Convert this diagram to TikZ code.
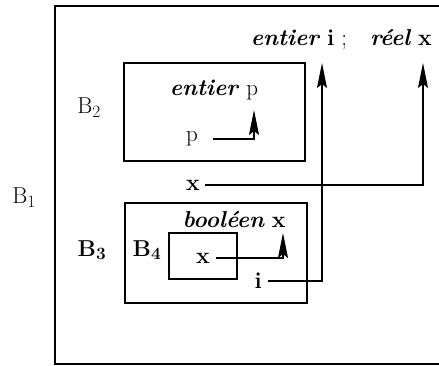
\documentclass[tikz,border=0pt]{standalone}
\usetikzlibrary{arrows.meta}
\tikzset{
  lbl/.style={inner sep=0pt, font=\fontsize{23}{27}\selectfont},
  box/.style={draw, line width=1.6pt},
  conn/.style={line width=1.3pt, -{Stealth[length=25pt,width=10pt,inset=4pt]}},
}
\begin{document}
\begin{tikzpicture}[x=1pt,y=-1pt]
\useasboundingbox (0,0) rectangle (439,366);
% outer block B1 (right side beyond the frame)
\draw[line width=1.7pt] (439,6) -- (55,6) -- (55,364) -- (439,364);
\node[lbl] (B1) at (24,198) {B$_1$};
\node[lbl, anchor=base east] (decl) at (432,46) {\textbf{\textit{entier}} \textbf{i} ;\quad \textbf{\textit{réel}} \textbf{x}};
% block B2
\node[box, minimum width=181pt, minimum height=98pt, inner sep=0pt] (box2) at (214.5,112) {};
\node[lbl] (B2) at (89,108) {B$_2$};
\node[lbl] (decp) at (214,90) {\textbf{\textit{entier}} p};
\node[lbl, anchor=east] (p2) at (198,139) {p};
% block B3
\node[box, minimum width=182pt, minimum height=100pt, inner sep=0pt] (box3) at (216,253) {};
\node[lbl] (B3) at (92,250) {\textbf{B}$_{\mathbf{3}}$};
\node[box, minimum width=68pt, minimum height=46pt, inner sep=0pt] (box4) at (203,256) {};
\node[lbl] (B4) at (147,250) {\textbf{B}$_{\mathbf{4}}$};
\node[lbl] (decb) at (234,220) {\textbf{\textit{booléen}} \textbf{x}};
\node[lbl, anchor=east] (x4) at (210,258) {\textbf{x}};
\node[lbl, anchor=east] (i3) at (262,281) {\textbf{i}};
% B1 use of x
\node[lbl, anchor=east] (x1) at (200,185) {\textbf{x}};
% arrow targets
\coordinate (tp) at (254,110);
\coordinate (tb) at (283,233);
\coordinate (ti) at (322,63);
\coordinate (tx) at (423,63);
\draw[conn] (p2.east) ++(15,0) coordinate (p2s) (p2s) -| (tp);
\draw[conn] (x4.east) ++(6,0) coordinate (x4s) (x4s) -| (tb);
\draw[conn] (i3.east) ++(6,0) coordinate (i3s) (i3s) -| (ti);
\draw[conn] (x1.east) ++(5,0) coordinate (x1s) (x1s) -| (tx);
\end{tikzpicture}
\end{document}
